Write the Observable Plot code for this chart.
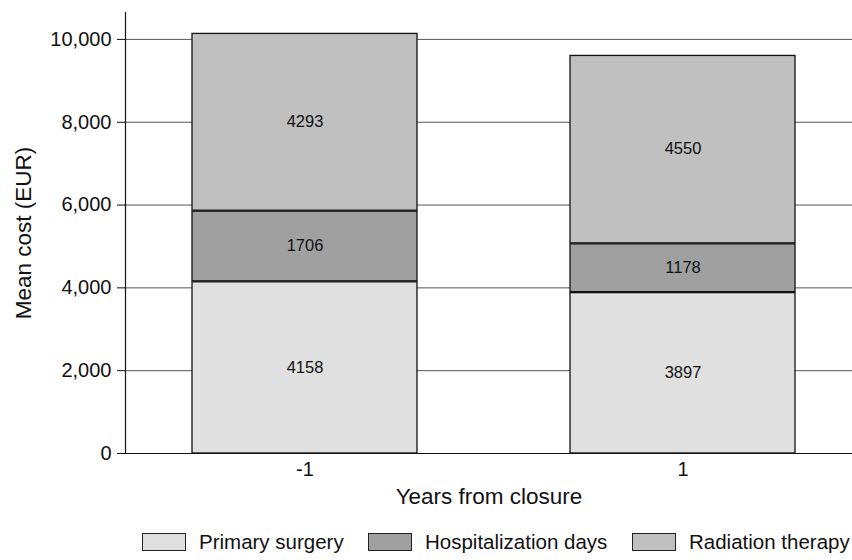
<!DOCTYPE html>
<html>
<head>
<meta charset="utf-8">
<script src="https://cdn.jsdelivr.net/npm/d3@7"></script>
<script src="https://cdn.jsdelivr.net/npm/@observablehq/plot@0.6"></script>
<style>
  html, body { margin: 0; padding: 0; background: #fff; overflow: hidden; }
  body { font-family: "Liberation Sans", Arial, sans-serif; }
  #legend { position: relative; height: 40px; width: 852px; }
  .item { position: absolute; top: 0; height: 40px; display: flex; align-items: center; font-size: 20.5px; color: #111; white-space: nowrap; }
  .sw { width: 44px; height: 18px; border: 1px solid #222; margin-right: 13px; box-sizing: border-box; }
</style>
</head>
<body>
<div id="chart"></div>
<div id="legend"></div>
<script>
const years = ["-1", "1"];
const categories = ["Primary surgery", "Hospitalization days", "Radiation therapy"];
const primarySurgery = [4158, 3897];
const hospitalizationDays = [1706, 1178];
const radiationTherapy = [4293, 4550];
const colors = ["#e0e0e0", "#a0a0a0", "#c0c0c0"];
const yTicks = [0, 2000, 4000, 6000, 8000, 10000];

const series = [primarySurgery, hospitalizationDays, radiationTherapy];
const rows = [];
years.forEach((yr, i) => {
  categories.forEach((c, j) => rows.push({year: yr, category: c, value: series[j][i]}));
});

const chart = Plot.plot({
  width: 852,
  height: 522,
  marginLeft: 125,
  marginRight: 0,
  marginTop: 12,
  marginBottom: 69,
  style: {fontFamily: '"Liberation Sans", Arial, sans-serif', fontSize: "20px", color: "#111"},
  x: {domain: years, paddingInner: 0.405, paddingOuter: 0.164, align: 0.54, label: "Years from closure"},
  y: {domain: [0, 10650], label: "Mean cost (EUR)"},
  color: {domain: categories, range: colors},
  marks: [
    Plot.ruleY(yTicks.slice(1), {stroke: "#555", strokeWidth: 1}),
    Plot.barY(rows, {x: "year", y: "value", fill: "category", stroke: "#111", strokeWidth: 1.3, insetTop: 1}),
    Plot.text(rows, Plot.stackY({x: "year", y: "value", z: "category", text: d => String(d.value), fontSize: 16.5, fill: "#111"})),
    Plot.ruleY([0], {stroke: "#111", strokeWidth: 1.2}),
    Plot.frame({anchor: "left", stroke: "#111", strokeWidth: 1.2}),
    Plot.axisY({ticks: yTicks, tickFormat: d3.format(","), tickSize: 8, tickPadding: 6, label: null, fontSize: 20}),
    Plot.axisY({ticks: [], label: "Mean cost (EUR)", labelAnchor: "center", labelArrow: "none", labelOffset: 110, fontSize: 22.5}),
    Plot.axisX({tickSize: 0, tickPadding: 8, label: null, fontSize: 20}),
    Plot.axisX({ticks: [], label: "Years from closure", labelAnchor: "center", labelArrow: "none", labelOffset: 50, fontSize: 22.5})
  ]
});
document.getElementById("chart").appendChild(chart);

const legend = document.getElementById("legend");
const lefts = [142, 368, 632];
categories.forEach((c, j) => {
  const it = document.createElement("div");
  it.className = "item";
  it.style.left = lefts[j] + "px";
  const sw = document.createElement("div");
  sw.className = "sw";
  sw.style.background = colors[j];
  it.appendChild(sw);
  const t = document.createElement("span");
  t.textContent = c;
  it.appendChild(t);
  legend.appendChild(it);
});
</script>
</body>
</html>
